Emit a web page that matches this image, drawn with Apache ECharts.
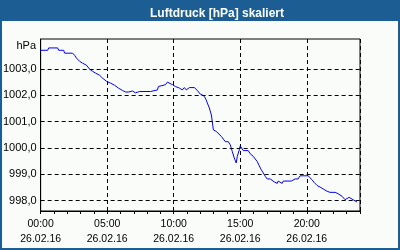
<!DOCTYPE html>
<html>
<head>
<meta charset="utf-8">
<script src="https://cdn.jsdelivr.net/npm/echarts@6/dist/echarts.min.js"></script>
<style>
html,body{margin:0;padding:0;background:#fafcfa;}
#c{width:400px;height:250px;}
</style>
</head>
<body>
<div id="c"></div>
<script>
// time of day in hours (26.02.16)
const hours = [0,0.53,0.6,1.28,1.35,1.73,1.8,2.4,2.55,2.7,2.93,3.15,3.45,3.68,3.9,4.13,4.43,4.65,4.95,5.25,5.55,5.85,6.15,6.38,6.6,6.75,6.9,7.13,7.28,7.43,8.25,8.4,8.78,8.85,9.0,9.38,9.53,9.68,9.9,10.13,10.43,10.65,10.8,10.95,11.18,11.55,11.78,12.0,12.23,12.38,12.53,12.68,12.83,12.9,12.98,13.2,13.35,13.58,13.73,13.88,14.1,14.25,14.4,14.55,14.7,14.78,14.93,15.0,15.15,15.23,15.6,15.75,15.98,16.13,16.28,16.43,16.58,16.73,16.88,17.03,17.25,17.4,17.55,17.7,17.78,17.85,18.0,18.15,18.23,18.83,18.98,19.13,19.35,19.5,20.1,20.18,20.4,20.55,20.78,21.0,21.23,21.53,21.75,21.9,22.13,22.35,22.5,22.65,22.88,23.03,23.18,23.33,23.48,23.63,23.78];
// air pressure in hPa
const pressure = [1003.72,1003.72,1003.81,1003.81,1003.72,1003.72,1003.61,1003.61,1003.53,1003.42,1003.30,1003.23,1003.15,1003.0,1002.92,1002.85,1002.77,1002.66,1002.54,1002.47,1002.39,1002.28,1002.19,1002.13,1002.13,1002.20,1002.17,1002.10,1002.06,1002.15,1002.15,1002.21,1002.21,1002.34,1002.41,1002.41,1002.51,1002.45,1002.41,1002.34,1002.28,1002.21,1002.30,1002.21,1002.30,1002.30,1002.19,1002.05,1002.0,1001.90,1001.71,1001.52,1001.26,1001.0,1000.69,1000.63,1000.59,1000.44,1000.34,1000.24,1000.24,1000.12,999.87,999.62,999.43,999.68,999.93,1000.08,1000.03,999.90,999.90,999.78,999.68,999.58,999.48,999.32,999.17,999.05,998.92,998.82,998.82,998.75,998.71,998.71,998.65,998.74,998.74,998.65,998.74,998.74,998.78,998.82,998.82,998.94,998.94,998.90,998.79,998.69,998.57,998.51,998.44,998.35,998.31,998.27,998.31,998.26,998.21,998.16,998.03,998.0,998.12,998.12,998.03,997.96,997.94];
const yGrid = [998,999,1000,1001,1002,1003];
const dateLabel = '26.02.16';
const titleText = 'Luftdruck [hPa] skaliert';
const unitText = 'hPa';

const chart = echarts.init(document.getElementById('c'), null, {renderer:'canvas'});
const FONT = 'Liberation Sans';
const data = hours.map((h,i)=>[h, pressure[i]]);
const pad = n => (n<10?'0':'')+n;

chart.setOption({
  animation:false,
  backgroundColor:'#fafcfa',
  title:{
    text:titleText, left:145, top:3,
    textStyle:{color:'#ffffff', fontFamily:FONT, fontSize:12, fontWeight:'bold'}
  },
  graphic:[
    {type:'rect', z:-1, shape:{x:0,y:0,width:400,height:21}, style:{fill:'#1c5e94'}},
    {type:'rect', z:100, shape:{x:1,y:1,width:398,height:248}, style:{fill:'none', stroke:'#1c5e94', lineWidth:2}},
    {type:'text', x:36, y:46, style:{text:unitText, fill:'#000', font:'11px "'+FONT+'"', textAlign:'right', textVerticalAlign:'middle'}}
  ],
  grid:{left:40, top:39, width:320, height:172, show:true, borderColor:'#000', borderWidth:1, backgroundColor:'transparent', containLabel:false},
  xAxis:[
    {type:'value', min:0, max:24, interval:5,
     axisLine:{show:false}, axisTick:{show:false},
     splitLine:{show:true, lineStyle:{color:'#000', type:[4,3], width:1}},
     axisLabel:{showMaxLabel:false, margin:6, lineHeight:15, color:'#000', fontFamily:FONT, fontSize:10.5,
       formatter:v=>pad(v)+':00\n'+dateLabel}},
    {type:'value', min:0, max:24, interval:1, position:'bottom',
     axisLine:{show:true, lineStyle:{color:'#000'}}, axisTick:{show:true, length:3, lineStyle:{color:'#000'}},
     axisLabel:{show:false}, splitLine:{show:false}}
  ],
  yAxis:{type:'value', min:997.6, max:1004.15, minInterval:1, maxInterval:1,
    axisLine:{show:true, lineStyle:{color:'#000'}}, axisTick:{show:false}, splitLine:{show:false},
    axisLabel:{margin:4, color:'#000', fontFamily:FONT, fontSize:11, showMinLabel:false, showMaxLabel:false,
      formatter:v=> (Math.abs(v-Math.round(v))<1e-6 && v>=998 && v<=1003) ? v.toFixed(1).replace('.',',') : ''}},
  series:[{
    type:'line', data:data, xAxisIndex:0, showSymbol:false, symbol:'none',
    lineStyle:{color:'#0000ee', width:1}, itemStyle:{color:'#0000ee'},
    markLine:{silent:true, symbol:'none', label:{show:false},
      lineStyle:{color:'#000', type:[4,3], width:1},
      data:yGrid.map(v=>({yAxis:v}))}
  }]
});
</script>
</body>
</html>
